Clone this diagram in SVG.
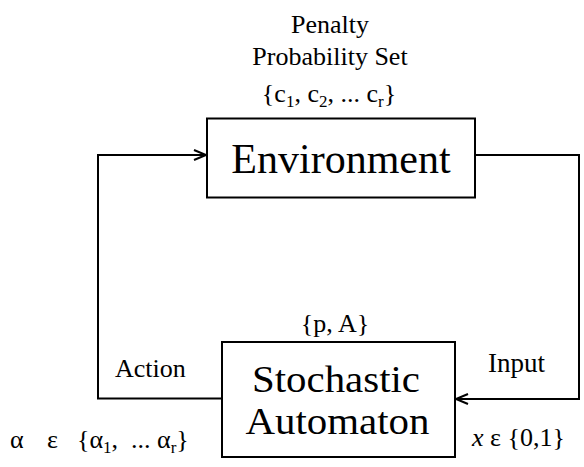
<svg xmlns="http://www.w3.org/2000/svg" width="584" height="467" viewBox="0 0 584 467">
<style>
text{font-family:"Liberation Serif","Times New Roman",serif;fill:#000}
.s{font-size:26px}
.b{font-size:42px;text-anchor:middle}
.m{text-anchor:middle}
.box{fill:#fff;stroke:#000;stroke-width:2}
.con{fill:none;stroke:#000;stroke-width:2}
.sub{font-size:17px}
</style>
<defs>
<marker id="arr" markerUnits="userSpaceOnUse" markerWidth="16" markerHeight="14" refX="14" refY="7" orient="auto">
<path d="M2,2 L14,7 L2,12" fill="none" stroke="#000" stroke-width="2"/>
</marker>
</defs>
<g id="connectors">
<path class="con" d="M222,398.5 H98 V155 H206" marker-end="url(#arr)"/>
<path class="con" d="M475,155 H579 V399 H456" marker-end="url(#arr)"/>
</g>
<g id="environment">
<rect class="box" x="207" y="118.5" width="268" height="79"/>
<text class="b" x="341" y="173">Environment</text>
</g>
<g id="automaton">
<rect class="box" x="222" y="342" width="233" height="115"/>
<text class="b" x="336" y="391.5" style="font-size:38px" textLength="168" lengthAdjust="spacingAndGlyphs">Stochastic</text>
<text class="b" x="337.5" y="434" style="font-size:38px" textLength="184" lengthAdjust="spacingAndGlyphs">Automaton</text>
</g>
<g id="labels">
<text class="s m" x="330" y="33">Penalty</text>
<text class="s m" x="330" y="65">Probability Set</text>
<text class="s m" x="329" y="102">{c<tspan class="sub" dy="5">1</tspan><tspan dy="-5">, c</tspan><tspan class="sub" dy="5">2</tspan><tspan dy="-5">, ... c</tspan><tspan class="sub" dy="5">r</tspan><tspan dy="-5">}</tspan></text>
<text class="s m" x="335" y="332">{p, A}</text>
<text class="s" x="115" y="377">Action</text>
<text class="s" x="488" y="372" style="font-size:27px">Input</text>
<text class="s" y="448"><tspan x="10">α</tspan><tspan x="47">ε</tspan><tspan x="77">{α</tspan><tspan class="sub" dy="5">1</tspan><tspan dy="-5">,</tspan><tspan x="131">... α</tspan><tspan class="sub" dy="5">r</tspan><tspan dy="-5">}</tspan></text>
<text class="s" x="472" y="446"><tspan font-style="italic">x</tspan> ε {0,1}</text>
</g>
</svg>
